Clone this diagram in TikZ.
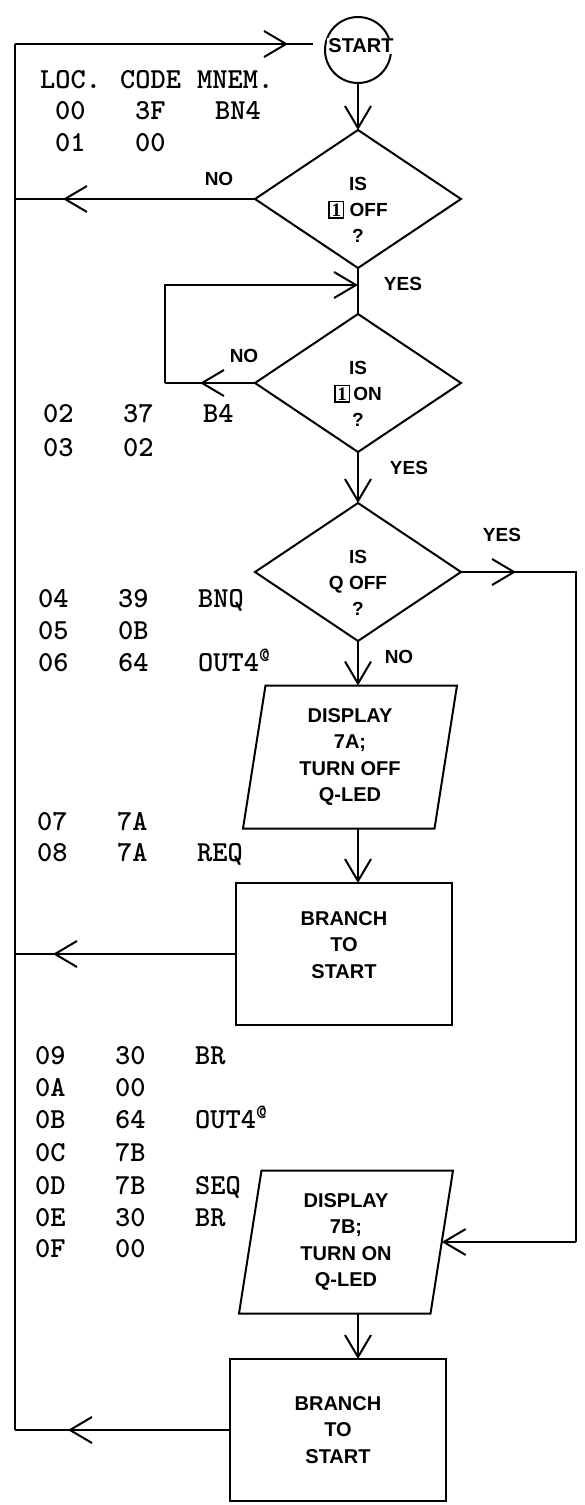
\documentclass[tikz,border=0pt]{standalone}
\usepackage{fontspec}
\setmainfont{Liberation Sans}
\newfontfamily\keyfont{Liberation Serif}
\usetikzlibrary{shapes.geometric,arrows.meta,decorations.markings,positioning}

\newcommand{\inkey}{{\setlength{\fboxsep}{1.2pt}\setlength{\fboxrule}{1.6pt}\fbox{\keyfont\makebox[0.55em]{1}}}}

\tikzstyle{startstop} = [circle, draw=black, line width=2pt, minimum size=66pt, inner sep=0pt, outer sep=0pt]
\tikzstyle{decision} = [diamond, aspect=1.49, draw=black, line width=2pt, minimum width=206pt, minimum height=138pt, inner sep=0pt, outer sep=0pt, align=center, font=\bfseries\fontsize{19}{26}\selectfont]
\tikzstyle{io} = [trapezium, trapezium left angle=77, trapezium right angle=103, trapezium stretches body, draw=black, line width=2pt, minimum width=214pt, minimum height=143pt, inner sep=0pt, outer sep=0pt, align=center, font=\bfseries\fontsize{20}{26.5}\selectfont]
\tikzstyle{process} = [rectangle, draw=black, line width=2pt, minimum width=216pt, minimum height=142pt, outer sep=0pt, align=center, font=\bfseries\fontsize{20}{26.5}\selectfont]
\tikzstyle{lbl} = [font=\bfseries\fontsize{19}{22}\selectfont, inner sep=0pt]
\tikzstyle{code} = [anchor=west, inner sep=0pt, text height=18pt, text depth=0pt, font=\ttfamily\bfseries\fontsize{29}{34}\selectfont]
\tikzstyle{line} = [line width=2pt]
\tikzstyle{arrow} = [line width=2pt, -{Straight Barb[length=22pt, width=26pt, line width=2pt]}]
\tikzset{midarrow/.style={postaction={decorate}, decoration={markings, mark=at position #1 with {\arrow{Straight Barb[length=22pt, width=26pt, line width=2pt]}}}}}

\begin{document}
\begin{tikzpicture}[x=1pt, y=-1pt]
\useasboundingbox (0,0) rectangle (584,1505);

% flow chart
\node (start) [startstop] at (358,50) {};
\node (starttext) [lbl, fill=white, inner sep=1pt, font=\bfseries\fontsize{20}{24}\selectfont] at (361,46) {START};
\node (off) [decision] at (358,199) {\rule{0pt}{34pt}IS\\\inkey\ OFF\\?};
\node (on) [decision] at (358,383) {\rule{0pt}{34pt}IS\\\inkey\,ON\\?};
\node (qoff) [decision] at (358,572) {\rule{0pt}{34pt}IS\\Q OFF\\?};
\node (showa) [io] at (350,757) {DISPLAY\\7A;\\TURN OFF\\Q-LED};
\node (jumpa) [process] at (344,954) {BRANCH\\TO\\START\rule[-18pt]{0pt}{18pt}};
\node (showb) [io] at (346,1242) {DISPLAY\\7B;\\TURN ON\\Q-LED};
\node (jumpb) [process] at (338,1430) {BRANCH\\TO\\START};

\node (no1) [lbl] at (219,179) {NO};
\node (yes1) [lbl] at (403,284) {YES};
\node (no2) [lbl] at (244,356) {NO};
\node (yes2) [lbl] at (409,468) {YES};
\node (yes3) [lbl] at (502,535) {YES};
\node (no3) [lbl] at (399,657) {NO};

\coordinate (railtop) at (15,44);
\coordinate (railbot) at (15,1430);
\coordinate (topend) at (313,44);
\coordinate (loop) at (165,285);
\coordinate (rtop) at (576,572);

\draw [line] (railtop) -- (railbot);
\draw [line, midarrow=-25pt] (railtop) -- (topend);
\draw [arrow] (start.south) -- (off.north);
\draw [line, midarrow=-48pt] (off.west) -- (off.west -| railtop);
\draw [line] (off.south) -- (on.north);
\draw [line, midarrow=-35pt] (on.west) -- (on.west -| loop);
\draw [arrow] (on.west -| loop) -- (loop) -- (loop -| off.south);
\draw [arrow] (on.south) -- (qoff.north);
\draw [line, midarrow=55pt] (qoff.east) -- (rtop) -- (rtop |- showb.east);
\draw [arrow] (rtop |- showb.east) -- (showb.east);
\draw [arrow] (qoff.south) -- (qoff.south |- showa.north);
\draw [arrow] (showa.south -| qoff.south) -- (jumpa.north -| qoff.south);
\draw [line, midarrow=-38pt] (jumpa.west) -- (jumpa.west -| railtop);
\draw [arrow] (showb.south -| qoff.south) -- (jumpb.north -| qoff.south);
\draw [line, midarrow=-53pt] (jumpb.west) -- (railbot);

% program listing
\node (hloc) [code] at (40,79) {LOC.};
\node (hcode) [code] at (120,79) {CODE};
\node (hmnem) [code] at (197,79) {MNEM.};
\foreach \y/\dx/\loc/\op/\mn in {110/17/00/3F/BN4, 142/17/01/00/, 413/5/02/37/B4, 447/5/03/02/,
  598/0/04/39/BNQ, 630/0/05/0B/, 662/0/06/64/OUT4\textsuperscript{@}, 821/-1/07/7A/, 852/-1/08/7A/REQ,
  1055/-3/09/30/BR, 1087/-3/0A/00/, 1119/-3/0B/64/OUT4\textsuperscript{@}, 1152/-3/0C/7B/,
  1185/-3/0D/7B/SEQ, 1217/-3/0E/30/BR, 1248/-3/0F/00/}
{
  \node (loc\loc) [code] at (38+\dx,\y) {\loc};
  \node (op\loc) [code] at (118+\dx,\y) {\op};
  \if\relax\detokenize\expandafter{\mn}\relax\else
    \node (mn\loc) [code] at (198+\dx,\y) {\mn};
  \fi
}

\end{tikzpicture}
\end{document}
